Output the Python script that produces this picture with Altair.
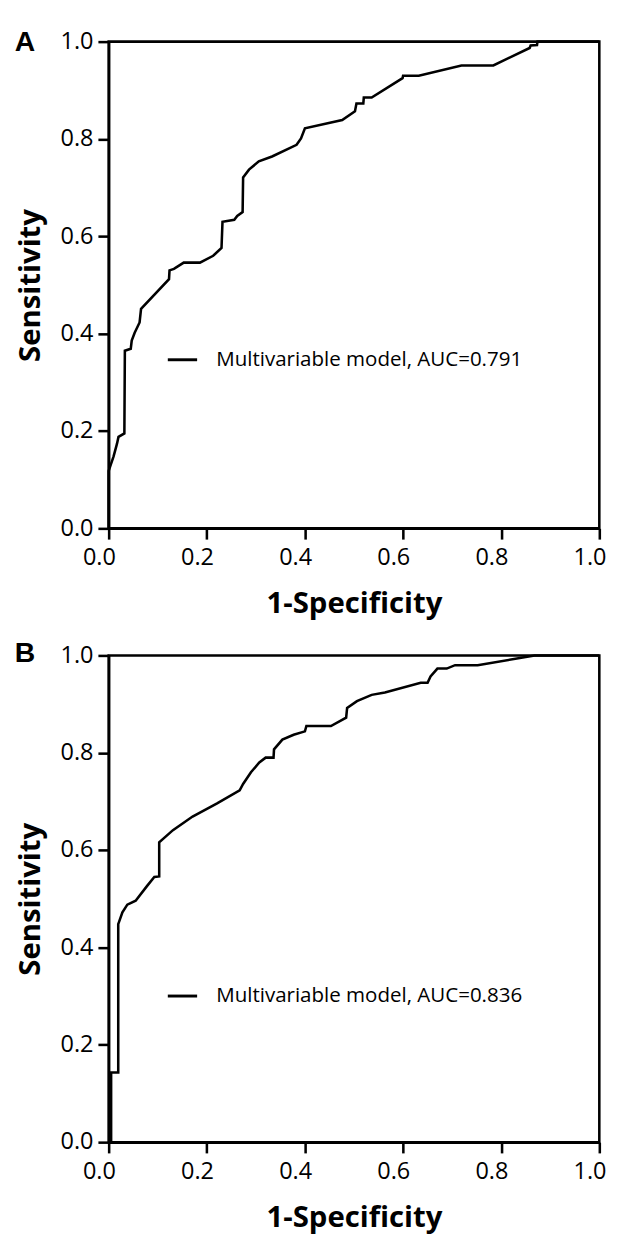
import altair as alt
import pandas as pd

# Panel A ROC curve (1-specificity, sensitivity)
fpr_a = [0.0, 0.0, 0.010, 0.017, 0.020, 0.032, 0.033, 0.045, 0.047, 0.053, 0.063, 0.066,
         0.123, 0.124, 0.133, 0.153, 0.186, 0.213, 0.230, 0.232, 0.256, 0.262, 0.273,
         0.274, 0.286, 0.306, 0.333, 0.383, 0.392, 0.400, 0.476, 0.502, 0.505, 0.519,
         0.520, 0.536, 0.599, 0.600, 0.632, 0.719, 0.784, 0.858, 0.860, 0.873, 0.874, 1.0]
tpr_a = [0.0, 0.118, 0.148, 0.174, 0.188, 0.195, 0.365, 0.369, 0.386, 0.402, 0.423, 0.451,
         0.512, 0.530, 0.533, 0.546, 0.546, 0.560, 0.576, 0.630, 0.634, 0.642, 0.650,
         0.721, 0.737, 0.754, 0.764, 0.788, 0.801, 0.822, 0.839, 0.857, 0.873, 0.873,
         0.885, 0.885, 0.925, 0.930, 0.930, 0.951, 0.951, 0.987, 0.992, 0.993, 1.0, 1.0]

# Panel B ROC curve
fpr_b = [0.005, 0.005, 0.0195, 0.0195, 0.028, 0.038, 0.055, 0.078, 0.093, 0.103, 0.103,
         0.131, 0.171, 0.221, 0.267, 0.274, 0.290, 0.307, 0.320, 0.336, 0.337, 0.354,
         0.377, 0.400, 0.403, 0.453, 0.484, 0.486, 0.506, 0.536, 0.563, 0.636, 0.650,
         0.656, 0.670, 0.689, 0.706, 0.752, 0.835, 0.868, 1.0]
tpr_b = [0.0, 0.143, 0.143, 0.448, 0.472, 0.488, 0.496, 0.526, 0.545, 0.546, 0.616,
         0.641, 0.669, 0.696, 0.723, 0.736, 0.760, 0.780, 0.790, 0.790, 0.807, 0.827,
         0.837, 0.844, 0.855, 0.855, 0.872, 0.892, 0.906, 0.919, 0.924, 0.944, 0.944,
         0.957, 0.973, 0.973, 0.980, 0.980, 0.994, 1.0, 1.0]

label_a = "Multivariable model, AUC=0.791"
label_b = "Multivariable model, AUC=0.836"
ticks = [0.0, 0.2, 0.4, 0.6, 0.8, 1.0]

FONT = "Open Sans"


def panel(fpr, tpr, label, letter, legend_y, letter_y):
    df = pd.DataFrame({"fpr": fpr, "tpr": tpr, "model": label,
                       "order": list(range(len(fpr)))})
    x = alt.X("fpr:Q", scale=alt.Scale(domain=[0, 1], nice=False, zero=False),
              axis=alt.Axis(values=ticks, format=".1f", title="1-Specificity",
                            labelPadding=7, titlePadding=20, labelFlush=False,
                            labelOffset=-10))
    y = alt.Y("tpr:Q", scale=alt.Scale(domain=[0, 1], nice=False, zero=False),
              axis=alt.Axis(values=ticks, format=".1f", title="Sensitivity",
                            labelPadding=5, titlePadding=15, labelFlush=False))
    line = alt.Chart(df).mark_line(strokeWidth=2.6, interpolate="linear").encode(
        x=x, y=y, order="order:Q",
        color=alt.Color("model:N", scale=alt.Scale(range=["black"]),
                        legend=alt.Legend(orient="none", legendX=59, legendY=legend_y,
                                          title=None, symbolType="stroke",
                                          symbolSize=900, symbolStrokeWidth=3,
                                          labelFontSize=21, labelFont=FONT,
                                          labelColor="black", labelOffset=18,
                                          padding=0, labelLimit=0)))
    letter_df = pd.DataFrame({"t": [letter]})
    txt = alt.Chart(letter_df).mark_text(
        align="left", baseline="middle", font="Liberation Sans", fontSize=29,
        fontWeight="bold", color="black").encode(
        x=alt.value(-96), y=alt.value(letter_y), text="t:N")
    return alt.layer(line, txt).properties(width=502, height=498)


pa = panel(fpr_a, tpr_a, label_a, "A", 309, 1)
pb = panel(fpr_b, tpr_b, label_b, "B", 332, -2)

chart = alt.vconcat(pa, pb, spacing=18).resolve_scale(
    color="independent").resolve_legend(color="independent").configure(
    padding={"left": 5, "top": 5, "right": 5, "bottom": 5}
).configure_view(
    stroke="black", strokeWidth=2.6
).configure_axis(
    grid=False, domainColor="black", domainWidth=2.6, tickColor="black",
    tickWidth=2.6, tickSize=11, labelColor="black", labelFont=FONT,
    labelFontSize=24, titleColor="black", titleFont=FONT, titleFontSize=30,
    titleFontWeight="bold"
)

chart.save("out.html", embed_options={"renderer": "svg", "actions": False})
